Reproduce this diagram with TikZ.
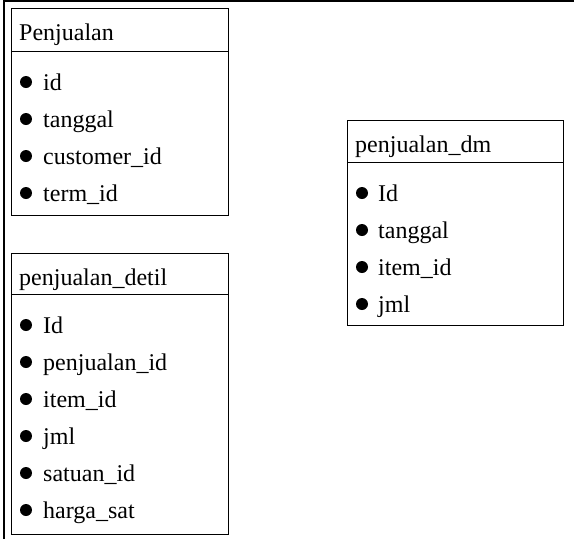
\documentclass[tikz,border=0pt]{standalone}
\usepackage{fontspec}
\setmainfont{Liberation Serif}
\begin{document}
\begin{tikzpicture}[x=1pt,y=-1pt,
  frameline/.style={line width=1.1pt},
  boxline/.style={line width=1pt},
  title/.style={anchor=base west,inner sep=0pt,font=\fontsize{24}{28}\selectfont},
  field/.style={anchor=base west,inner sep=0pt,font=\fontsize{24}{28}\selectfont},
  dot/.style={fill=black,draw=none}
]
\useasboundingbox (0,0) rectangle (574,539);

% outer frame (top and left edges only)
\draw[frameline] (4,539) -- (4,1) -- (574,1);

% table: Penjualan
\draw[boxline] (11,8) rectangle (228,215);
\draw[boxline] (11,51) -- (228,51);
\node[title] (pj-title) at (19,40) {Penjualan};
\foreach \i/\t in {0/id,1/tanggal,2/customer\_id,3/term\_id}{
  \fill[dot] (26,90+37*\i-8) circle[radius=6pt];
  \node[field] (pj-f\i) at (43,90+37*\i) {\t};
}

% table: penjualan_detil
\draw[boxline] (11,253) rectangle (228,534);
\draw[boxline] (11,294) -- (228,294);
\node[title] (pd-title) at (19,285) {penjualan\_detil};
\foreach \i/\t in {0/Id,1/penjualan\_id,2/item\_id,3/jml,4/satuan\_id,5/harga\_sat}{
  \fill[dot] (26,333+37*\i-8) circle[radius=6pt];
  \node[field] (pd-f\i) at (43,333+37*\i) {\t};
}

% table: penjualan_dm
\draw[boxline] (347,120) rectangle (563,325);
\draw[boxline] (347,162) -- (563,162);
\node[title] (dm-title) at (355,152) {penjualan\_dm};
\foreach \i/\t in {0/Id,1/tanggal,2/item\_id,3/jml}{
  \fill[dot] (362,201+37*\i-8) circle[radius=6pt];
  \node[field] (dm-f\i) at (378,201+37*\i) {\t};
}
\end{tikzpicture}
\end{document}
